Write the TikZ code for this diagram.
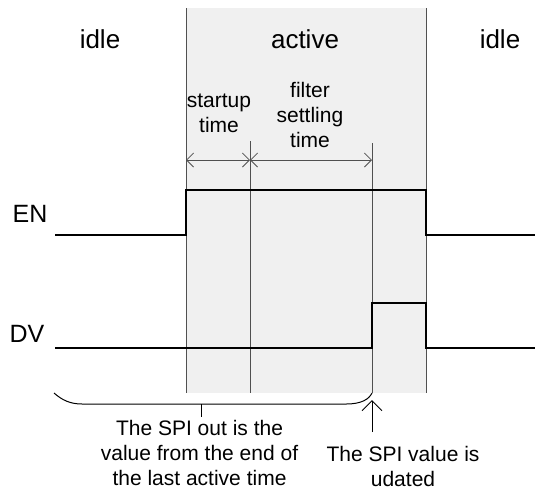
\documentclass[tikz,border=0pt]{standalone}
\usepackage{fontspec}
\setmainfont{Liberation Sans}
\usetikzlibrary{arrows.meta}
\definecolor{graybg}{HTML}{F0F0F0}
\definecolor{gridline}{HTML}{505050}
\begin{document}
\begin{tikzpicture}[x=1pt,y=-1pt,
  lbl/.style={inner sep=0pt, font=\fontsize{26}{30}\selectfont, anchor=base},
  sig/.style={line width=2pt, black, line join=miter},
  gridl/.style={line width=1pt, draw=gridline},
  note/.style={inner sep=0pt, font=\fontsize{21}{25}\selectfont, align=center, anchor=north},
  dimarrow/.style={line width=0.8pt, draw=gridline, {Straight Barb[length=7pt,width=14pt]}-{Straight Barb[length=7pt,width=14pt]}},
  uparrow/.style={line width=1pt, black, -{Straight Barb[length=10pt,width=20pt]}},
]
\useasboundingbox (0,0) rectangle (535,491);
% active region
\coordinate (gtl) at (186,8);
\coordinate (gbr) at (426,393);
\fill[graybg] (gtl) rectangle (gbr);
% vertical lines
\coordinate (v1t) at (186,8);   \coordinate (v1b) at (186,393);
\coordinate (v2t) at (250,141); \coordinate (v2b) at (250,393);
\coordinate (v3t) at (372,143); \coordinate (v3b) at (372,393);
\coordinate (v4t) at (426,8);   \coordinate (v4b) at (426,393);
\draw[gridl] (v1t) -- (v1b);
\draw[gridl] (v2t) -- (v2b);
\draw[gridl] (v3t) -- (v3b);
\draw[gridl] (v4t) -- (v4b);
% dimension arrows
\coordinate (d1) at (186,160);
\coordinate (d2) at (250,160);
\coordinate (d3) at (372,160);
\draw[dimarrow] (d1) -- (d2);
\draw[dimarrow] (d2) -- (d3);
% EN signal
\coordinate (en0) at (55,235);
\coordinate (en1) at (186,235);
\coordinate (en2) at (186,190);
\coordinate (en3) at (426,190);
\coordinate (en4) at (426,235);
\coordinate (en5) at (535,235);
\draw[sig] (en0) -- (en1) -- (en2) -- (en3) -- (en4) -- (en5);
% DV signal
\coordinate (dv0) at (55,348);
\coordinate (dv1) at (372,348);
\coordinate (dv2) at (372,303);
\coordinate (dv3) at (426,303);
\coordinate (dv4) at (426,348);
\coordinate (dv5) at (535,348);
\draw[sig] (dv0) -- (dv1) -- (dv2) -- (dv3) -- (dv4) -- (dv5);
% brace
\coordinate (b0) at (54,393);
\coordinate (b1) at (82,404);
\coordinate (b2) at (346,404);
\coordinate (b3) at (372,393);
\coordinate (bt0) at (201,404);
\coordinate (bt1) at (201,417);
\draw[line width=1pt] (b0) .. controls (62,400) and (70,404) .. (b1) -- (b2) .. controls (362,404) and (369,399) .. (b3);
\draw[line width=1pt] (bt0) -- (bt1);
% update arrow
\coordinate (ua0) at (372,432);
\coordinate (ua1) at (372,400);
\draw[uparrow] (ua0) -- (ua1);
% labels
\node[lbl] (idle1) at (100,48) {idle};
\node[lbl] (active) at (305,48) {active};
\node[lbl] (idle2) at (500,48) {idle};
\node[lbl, font=\fontsize{25}{30}\selectfont] (en) at (30,222) {EN};
\node[lbl, font=\fontsize{25}{30}\selectfont] (dv) at (27,342) {DV};
\node[note] (startup) at (219,94) {startup\\time};
\node[note] (filter) at (310,82) {filter\\settling\\time};
\node[note] (spiout) at (199.5,420.5) {The SPI out is the\\value from the end of\\the last active time};
\node[note] (spiupd) at (403,446.5) {The SPI value is\\udated};
\end{tikzpicture}
\end{document}
